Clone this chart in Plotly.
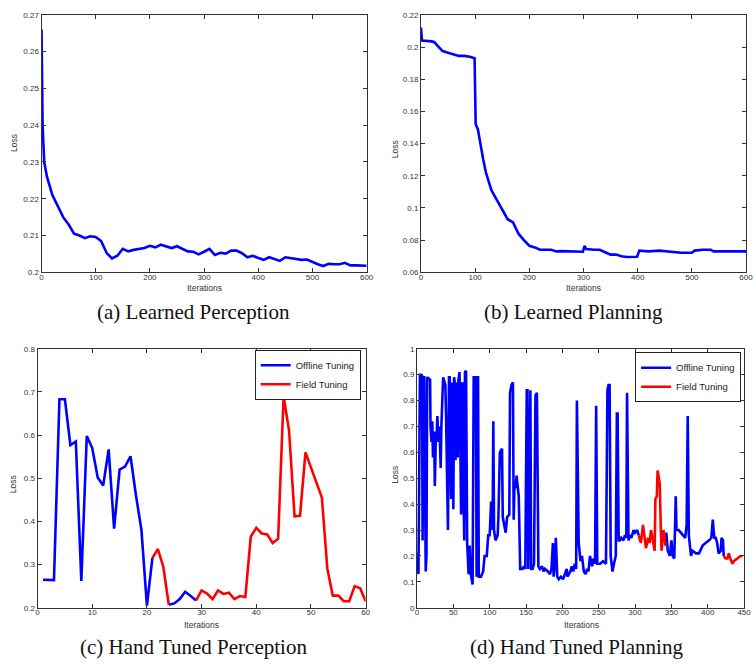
import plotly.graph_objects as go

W, H = 756, 666

# ---------------- data ----------------
# (a) Learned Perception
a_iter = [0, 2, 5, 10, 20, 30, 40, 50, 60, 70, 80, 90, 100, 110, 120, 130, 140, 150, 160, 170,
          180, 190, 200, 210, 220, 230, 240, 250, 260, 270, 280, 290, 300, 310, 320, 330, 340,
          350, 360, 370, 380, 390, 400, 410, 420, 430, 440, 450, 460, 470, 480, 490, 500, 510,
          520, 530, 540, 550, 560, 570, 580, 590, 600]
a_loss = [0.266, 0.240, 0.230, 0.226, 0.221, 0.218, 0.215, 0.213, 0.2105, 0.2100, 0.2093, 0.2098,
          0.2096, 0.2085, 0.2053, 0.2038, 0.2045, 0.2064, 0.2057, 0.2061, 0.2064, 0.2066, 0.2072,
          0.2068, 0.2075, 0.2071, 0.2066, 0.2071, 0.2065, 0.2057, 0.2056, 0.2049, 0.2056, 0.2064,
          0.2047, 0.2053, 0.2051, 0.2059, 0.2059, 0.2052, 0.2041, 0.2045, 0.2039, 0.2034, 0.2041,
          0.2036, 0.2031, 0.2041, 0.2039, 0.2035, 0.2034, 0.2035, 0.2028, 0.2022, 0.2017, 0.2023,
          0.2022, 0.2022, 0.2026, 0.2019, 0.2019, 0.2018, 0.2018]

# (b) Learned Planning
b_iter = [0, 2, 20, 25, 30, 40, 50, 60, 70, 80, 90, 99, 101, 105, 110, 115, 120, 125, 130, 140,
          150, 160, 170, 180, 190, 195, 200, 210, 220, 240, 250, 260, 270, 280, 299, 302, 305,
          320, 330, 340, 350, 360, 370, 380, 399, 403, 420, 440, 460, 480, 500, 505, 520, 535,
          540, 600]
b_loss = [0.212, 0.204, 0.2035, 0.203, 0.201, 0.1975, 0.1965, 0.1955, 0.1945, 0.1945, 0.194, 0.193,
          0.152, 0.149, 0.138, 0.130, 0.122, 0.116, 0.111, 0.105, 0.099, 0.093, 0.091, 0.084, 0.080,
          0.0785, 0.0765, 0.0755, 0.074, 0.074, 0.073, 0.0732, 0.073, 0.0728, 0.0728, 0.0765,
          0.0745, 0.074, 0.074, 0.0725, 0.071, 0.071, 0.070, 0.0695, 0.0697, 0.0735, 0.073,
          0.0735, 0.073, 0.0722, 0.0722, 0.0735, 0.074, 0.074, 0.073, 0.073]

# (c) Hand Tuned Perception
c_off_iter = [1, 2, 3, 4, 5, 6, 7, 8, 9, 10, 11, 12, 13, 14, 15, 16, 17, 18, 19, 20, 21,
              None, 24, 25, 26, 27, 28, 29]
c_off_loss = [0.265, 0.265, 0.264, 0.683, 0.683, 0.577, 0.585, 0.262, 0.598, 0.570, 0.502, 0.483,
              0.567, 0.383, 0.520, 0.527, 0.551, 0.460, 0.380, 0.205, 0.315,
              None, 0.207, 0.210, 0.220, 0.237, 0.227, 0.217]
c_field_iter = [21, 22, 23, 24, None, 29, 30, 31, 32, 33, 34, 35, 36, 37, 38, 39, 40, 41, 42, 43,
                44, 45, 46, 47, 48, 49, 50, 51, 52, 53, 54, 55, 56, 57, 58, 59, 60]
c_field_loss = [0.315, 0.336, 0.295, 0.207, None, 0.217, 0.240, 0.233, 0.220, 0.240, 0.232, 0.235,
                0.220, 0.227, 0.225, 0.365, 0.385, 0.372, 0.370, 0.350, 0.360, 0.690, 0.610,
                0.412, 0.413, 0.560, 0.525, 0.490, 0.455, 0.290, 0.228, 0.228, 0.215, 0.215,
                0.250, 0.245, 0.215]

# (d) Hand Tuned Planning
d_off_iter = [0, 1, 2, 3, 4, 6, 7, 7.7, 8.6, 10, 11, 12, 13, 14, 16, 18, 18.6, 20, 21, 22, 23.6,
              24.5, 26, 27, 28, 29.5, 31, 32.6, 33.5, 36, 37, 39, 40, 41.6, 42.6, 44, 45, 46, 47,
              48.5, 49, 50, 51, 52, 53, 54, 56, 57, 58.5, 59.4, 60.7, 62, 63.4, 64, 65, 66, 67.5,
              69, 70, 71, 72.5, 74, 76.5, 78, 81, 82, 83, 84, 85, 88, 91, 93, 96, 98, 100, 102,
              104, 105, 106, 108, 111, 112, 114, 117, 118, 120, 122, 124, 127, 128, 130, 132, 133,
              134, 136, 137, 140, 142, 145, 147, 149, 151, 152, 153, 155, 156, 157, 159, 161, 163,
              165, 167, 169, 172, 174, 176, 180, 183, 185, 187, 188, 190, 191, 193, 195, 198, 201,
              204, 206, 207, 211, 213, 215, 217, 219, 220, 222.5, 225, 227, 229.5, 232, 234, 236,
              238, 241, 243, 245, 246.5, 248, 252, 256, 260, 262, 263.5, 265, 266.5, 269, 271,
              273.5, 275, 276, 277.5, 279, 281, 284, 286, 288, 289, 291, 293, 295, 298, 300, 303,
              305,
              None,
              342, 343, 345, 348, 350, 352, 354, 356, 357, 360, 363, 366, 369, 371, 372.5, 374, 375,
              377, 379, 384, 388, 393, 397, 402, 405, 407, 409, 411, 413, 415, 418, 419, 421, 422]
d_off_loss = [0.21, 0.15, 0.13, 0.50, 0.90, 0.90, 0.895, 0.26, 0.89, 0.89, 0.34, 0.14, 0.20, 0.89,
              0.885, 0.88, 0.70, 0.64, 0.72, 0.58, 0.68, 0.47, 0.67, 0.65, 0.74, 0.64, 0.70, 0.54,
              0.70, 0.89, 0.88, 0.86, 0.74, 0.46, 0.30, 0.89, 0.89, 0.60, 0.42, 0.87, 0.50, 0.38,
              0.89, 0.87, 0.57, 0.87, 0.58, 0.88, 0.91, 0.52, 0.36, 0.87, 0.86, 0.45, 0.26, 0.91,
              0.915, 0.25, 0.13, 0.13, 0.24, 0.13, 0.09, 0.89, 0.89, 0.12, 0.89, 0.89, 0.12, 0.12,
              0.14, 0.20, 0.20, 0.28, 0.28, 0.41, 0.30, 0.72, 0.30, 0.26, 0.28, 0.35, 0.60, 0.614,
              0.35, 0.31, 0.29, 0.35, 0.36, 0.83, 0.86, 0.87, 0.34, 0.46, 0.47, 0.51, 0.43, 0.15,
              0.15, 0.16, 0.15, 0.84, 0.84, 0.15, 0.84, 0.84, 0.15, 0.15, 0.17, 0.82, 0.83, 0.16,
              0.15, 0.16, 0.14, 0.15, 0.14, 0.13, 0.15, 0.25, 0.12, 0.17, 0.27, 0.12, 0.11, 0.12,
              0.11, 0.13, 0.15, 0.12, 0.14, 0.16, 0.14, 0.17, 0.15, 0.80, 0.25, 0.18, 0.20, 0.14,
              0.13, 0.15, 0.14, 0.20, 0.16, 0.19, 0.17, 0.78, 0.17, 0.17, 0.18, 0.17, 0.84, 0.86,
              0.86, 0.20, 0.14, 0.17, 0.20, 0.75, 0.75, 0.26, 0.26, 0.27, 0.26, 0.28, 0.27, 0.83,
              0.26, 0.28, 0.27, 0.30, 0.29, 0.30, 0.28,
              None,
              0.24, 0.29, 0.22, 0.20, 0.26, 0.20, 0.19, 0.43, 0.30, 0.30, 0.29, 0.28, 0.27, 0.32,
              0.74, 0.28, 0.25, 0.20, 0.22, 0.21, 0.21, 0.24, 0.25, 0.26, 0.27, 0.34, 0.27, 0.27,
              0.25, 0.21, 0.22, 0.27, 0.26, 0.20]
d_field_iter = [305, 306, 308, 311, 313, 315, 318, 320, 322, 324, 327, 328, 330, 331, 333, 334,
                335.5, 336.5, 339, 341, 342,
                None,
                422, 424.6, 427, 429, 431, 434, 436, 440, 445, 448]
d_field_loss = [0.28, 0.27, 0.25, 0.32, 0.27, 0.23, 0.27, 0.25, 0.30, 0.26, 0.22, 0.42, 0.43, 0.53,
                0.50, 0.48, 0.30, 0.22, 0.30, 0.24, 0.24,
                None,
                0.20, 0.19, 0.19, 0.21, 0.19, 0.17, 0.18, 0.19, 0.20, 0.20]

# tick labels
a_yticks = [0.20, 0.21, 0.22, 0.23, 0.24, 0.25, 0.26, 0.27]
a_ylabels = ["0.2", "0.21", "0.22", "0.23", "0.24", "0.25", "0.26", "0.27"]
b_yticks = [0.06, 0.08, 0.10, 0.12, 0.14, 0.16, 0.18, 0.20, 0.22]
b_ylabels = ["0.06", "0.08", "0.1", "0.12", "0.14", "0.16", "0.18", "0.2", "0.22"]
ab_xticks = [0, 100, 200, 300, 400, 500, 600]
c_yticks = [0.2, 0.3, 0.4, 0.5, 0.6, 0.7, 0.8]
c_ylabels = ["0.2", "0.3", "0.4", "0.5", "0.6", "0.7", "0.8"]
c_xticks = [0, 10, 20, 30, 40, 50, 60]
d_yticks = [0, 0.1, 0.2, 0.3, 0.4, 0.5, 0.6, 0.7, 0.8, 0.9, 1.0]
d_ylabels = ["0", "0.1", "0.2", "0.3", "0.4", "0.5", "0.6", "0.7", "0.8", "0.9", "1"]
d_xticks = [0, 50, 100, 150, 200, 250, 300, 350, 400, 450]

captions = ["(a) Learned Perception", "(b) Learned Planning",
            "(c) Hand Tuned Perception", "(d) Hand Tuned Planning"]

BLUE = "#0000ff"
RED = "#ff0000"
LW = 2.6

# ---------------- figure ----------------
def px_x(p):
    return p / W

def px_y(p):
    return 1 - p / H

fig = go.Figure()

fig.add_trace(go.Scatter(x=a_iter, y=a_loss, mode="lines", line=dict(color=BLUE, width=LW),
                         xaxis="x", yaxis="y", showlegend=False))
fig.add_trace(go.Scatter(x=b_iter, y=b_loss, mode="lines", line=dict(color=BLUE, width=LW),
                         xaxis="x2", yaxis="y2", showlegend=False))
fig.add_trace(go.Scatter(x=c_off_iter, y=c_off_loss, mode="lines", line=dict(color=BLUE, width=LW),
                         xaxis="x3", yaxis="y3", name="Offline Tuning", legend="legend"))
fig.add_trace(go.Scatter(x=c_field_iter, y=c_field_loss, mode="lines", line=dict(color=RED, width=LW),
                         xaxis="x3", yaxis="y3", name="Field Tuning", legend="legend"))
fig.add_trace(go.Scatter(x=d_off_iter, y=d_off_loss, mode="lines", line=dict(color=BLUE, width=LW),
                         xaxis="x4", yaxis="y4", name="Offline Tuning", legend="legend2"))
fig.add_trace(go.Scatter(x=d_field_iter, y=d_field_loss, mode="lines", line=dict(color=RED, width=LW),
                         xaxis="x4", yaxis="y4", name="Field Tuning", legend="legend2"))

tickfont = dict(family="Liberation Sans, Arial, sans-serif", size=8, color="#333")
AXC = "#333"

def xaxis(dom, rng, ticks, anchor):
    return dict(domain=dom, range=rng, tickvals=ticks, ticktext=[str(t) for t in ticks],
                ticks="inside", ticklen=4, tickcolor=AXC, showline=True, linecolor=AXC,
                linewidth=1, mirror="ticks", showgrid=False, zeroline=False,
                tickfont=tickfont, anchor=anchor, ticklabelstandoff=-3)

def yaxis(dom, rng, ticks, labels, anchor):
    return dict(domain=dom, range=rng, tickvals=ticks, ticktext=labels,
                ticks="inside", ticklen=4, tickcolor=AXC, showline=True, linecolor=AXC,
                linewidth=1, mirror="ticks", showgrid=False, zeroline=False,
                tickfont=tickfont, anchor=anchor, ticklabelstandoff=0)

top_dom = [px_y(272), px_y(11)]
bot_dom = [px_y(612), px_y(349.5)]

leg_font = dict(family="Liberation Sans, Arial, sans-serif", size=9.5, color="#222")
fig.update_layout(
    width=W, height=H, autosize=False,
    margin=dict(l=0, r=0, t=0, b=0),
    paper_bgcolor="white", plot_bgcolor="white",
    xaxis=xaxis([px_x(40), px_x(369)], [0, 600], ab_xticks, "y"),
    yaxis=yaxis(top_dom, [0.2, 0.27], a_yticks, a_ylabels, "x"),
    xaxis2=xaxis([px_x(424), px_x(753)], [0, 600], ab_xticks, "y2"),
    yaxis2=yaxis(top_dom, [0.06, 0.22], b_yticks, b_ylabels, "x2"),
    xaxis3=xaxis([px_x(36), px_x(368)], [0, 60], c_xticks, "y3"),
    yaxis3=yaxis(bot_dom, [0.2, 0.8], c_yticks, c_ylabels, "x3"),
    xaxis4=xaxis([px_x(420), px_x(751)], [0, 450], d_xticks, "y4"),
    yaxis4=yaxis(bot_dom, [0, 1], d_yticks, d_ylabels, "x4"),
    legend=dict(x=px_x(363), y=px_y(350.5), xanchor="right", yanchor="top",
                bgcolor="white", bordercolor="#222", borderwidth=1, font=leg_font,
                tracegroupgap=0, itemwidth=30),
    legend2=dict(x=px_x(748), y=px_y(353), xanchor="right", yanchor="top",
                 bgcolor="white", bordercolor="#222", borderwidth=1, font=leg_font,
                 tracegroupgap=0, itemwidth=30),
)

ann = []
lab_font = dict(family="Liberation Sans, Arial, sans-serif", size=8.5, color="#333")
# axis titles
for cx, cy in [(205, 288), (589, 288), (202, 629), (586, 629)]:
    ann.append(dict(text="Iterations", x=px_x(cx), y=px_y(cy), xref="paper", yref="paper",
                    showarrow=False, font=lab_font, xanchor="center", yanchor="middle"))
for cx, cy in [(12, 141), (398, 147), (12, 487), (397, 477)]:
    ann.append(dict(text="Loss", x=px_x(cx), y=px_y(cy), xref="paper", yref="paper",
                    showarrow=False, font=lab_font, textangle=-90,
                    xanchor="center", yanchor="middle"))
# captions
cap_font = dict(family="Liberation Serif, Times New Roman, serif", size=21, color="#111")
for txt, cx, cy in zip(captions, [194, 578, 194, 581], [312, 312, 652, 652]):
    ann.append(dict(text=txt, x=px_x(cx), y=px_y(cy), xref="paper", yref="paper",
                    showarrow=False, font=cap_font, xanchor="center", yanchor="middle"))
fig.update_layout(annotations=ann)

fig.write_html("out.html")
